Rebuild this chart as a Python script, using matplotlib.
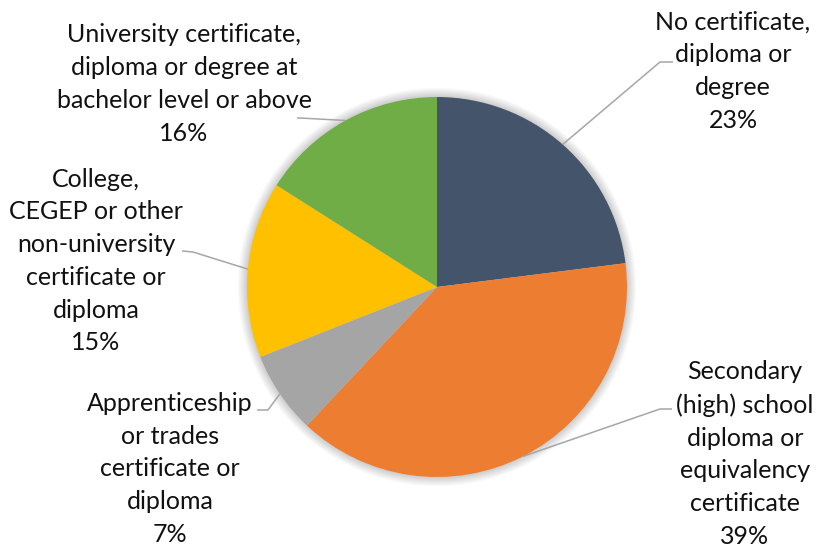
import numpy as np
import matplotlib
matplotlib.use('Agg')
import matplotlib.pyplot as plt
from matplotlib.patches import Circle

categories = [
    'No certificate,\ndiploma or\ndegree',
    'Secondary\n(high) school\ndiploma or\nequivalency\ncertificate',
    'Apprenticeship\nor trades\ncertificate or\ndiploma',
    'College,\nCEGEP or other\nnon-university\ncertificate or\ndiploma',
    'University certificate,\ndiploma or degree at\nbachelor level or above',
]
shares = [23, 39, 7, 15, 16]
colors = ['#44546A', '#ED7D31', '#A5A5A5', '#FFC000', '#70AD47']

# label layout in pixels of the 821x548 picture: text centre, elbow, line end
label_xy = [(733, 71), (745, 454), (170, 469), (96, 261), (184, 84)]
elbow_xy = [(660, 62), (660, 409), (268, 410), (193, 252), (300, 118)]
end_xy = [(673, 62), (672, 409), (257, 410), (182, 251), (297, 118)]

W, H = 821, 548
CX, CY, R = 437, 287, 190


def to_data(p):
    return ((p[0] - CX) / R, (CY - p[1]) / R)


plt.rcParams['font.family'] = ['Lato', 'DejaVu Sans']

fig = plt.figure(figsize=(W / 100, H / 100), dpi=100)
ax = fig.add_axes([0, 0, 1, 1])

# soft shadow round the pie
for k in range(8):
    ax.add_patch(Circle((0, 0.0), 1 + 0.006 * (k + 1), color='black',
                        alpha=0.025, lw=0, zorder=0))

wedges, _ = ax.pie(shares, colors=colors, startangle=90, counterclock=False,
                   radius=1, wedgeprops=dict(linewidth=0))
for w in wedges:
    w.set_zorder(2)

ax.set_xlim(-CX / R, (W - CX) / R)
ax.set_ylim((CY - H) / R, CY / R)
ax.set_aspect('equal')
ax.axis('off')

for w, cat, val, txt, elb, end in zip(wedges, categories, shares,
                                      label_xy, elbow_xy, end_xy):
    mid = np.deg2rad((w.theta1 + w.theta2) / 2)
    start = (np.cos(mid), np.sin(mid))
    e = to_data(elb)
    f = to_data(end)
    ax.plot([start[0], e[0], f[0]], [start[1], e[1], f[1]],
            color='#A6A6A6', lw=1.1, zorder=3, solid_capstyle='butt')
    tx, ty = to_data(txt)
    ax.text(tx, ty, f'{cat}\n{val}%', ha='center', va='center',
            fontsize=18, color='#111111', linespacing=1.51, zorder=4)

fig.savefig('out.png', dpi=100, facecolor='white')
